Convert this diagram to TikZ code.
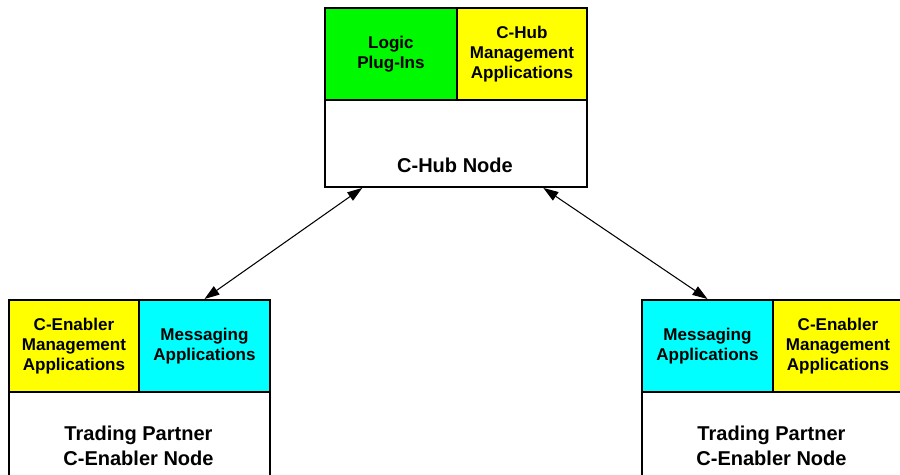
\documentclass[tikz,border=0pt]{standalone}
\usepackage{fontspec}
\setmainfont{Liberation Sans}
\usepackage{tikz}
\usetikzlibrary{arrows.meta}
\definecolor{plugin}{RGB}{0,248,0}
\definecolor{mgmt}{RGB}{255,255,0}
\definecolor{msg}{RGB}{0,255,255}
\newcommand{\celltext}{\fontsize{9.7}{11.3}\selectfont\bfseries}
\newcommand{\nodetext}{\fontsize{11.4}{14.2}\selectfont\bfseries}
\tikzset{
  box/.style={draw, line width=1.1pt, rectangle, inner sep=0pt, anchor=north west},
  cell/.style={box, minimum height=1.84cm, align=center, font=\celltext},
  link/.style={{Triangle[length=0.3cm,width=0.2cm]}-{Triangle[length=0.3cm,width=0.2cm]}, line width=0.6pt}
}

\begin{document}
\begin{tikzpicture}
  \useasboundingbox (0, 0) rectangle (18, -9.5);
  \clip (0, 0) rectangle (18, -9.5);
  % hub
  \node [box, minimum width=5.24cm, minimum height=3.58cm] (hub) at (6.48, -0.14) {};
  \node [cell, fill=plugin, minimum width=2.64cm] (logic) at (6.48, -0.14) {Logic\\Plug-Ins};
  \node [cell, fill=mgmt, minimum width=2.6cm] (hubmgmt) at (9.12, -0.14) {C-Hub\\Management\\Applications};
  \node [font=\nodetext] (hublabel) at (9.1, -3.3) {C-Hub Node};
  % left partner
  \node [box, minimum width=5.22cm, minimum height=3.7cm] (left) at (0.16, -5.98) {};
  \node [cell, fill=mgmt, minimum width=2.6cm] (lmgmt) at (0.16, -5.98) {C-Enabler\\Management\\Applications};
  \node [cell, fill=msg, minimum width=2.62cm] (lmsg) at (2.76, -5.98) {Messaging\\Applications};
  \node [font=\nodetext, align=center] (leftlabel) at (2.77, -8.91) {Trading Partner\\C-Enabler Node};
  % right partner
  \node [box, minimum width=5.22cm, minimum height=3.7cm] (right) at (12.82, -5.98) {};
  \node [cell, fill=msg, minimum width=2.62cm] (rmsg) at (12.82, -5.98) {Messaging\\Applications};
  \node [cell, fill=mgmt, minimum width=2.6cm] (rmgmt) at (15.44, -5.98) {C-Enabler\\Management\\Applications};
  \node [font=\nodetext, align=center] (rightlabel) at (15.43, -8.91) {Trading Partner\\C-Enabler Node};
  % links
  \draw [link] (lmsg.north) -- (hub.224);
  \draw [link] (hub.-46) -- (rmsg.north);
\end{tikzpicture}
\end{document}
